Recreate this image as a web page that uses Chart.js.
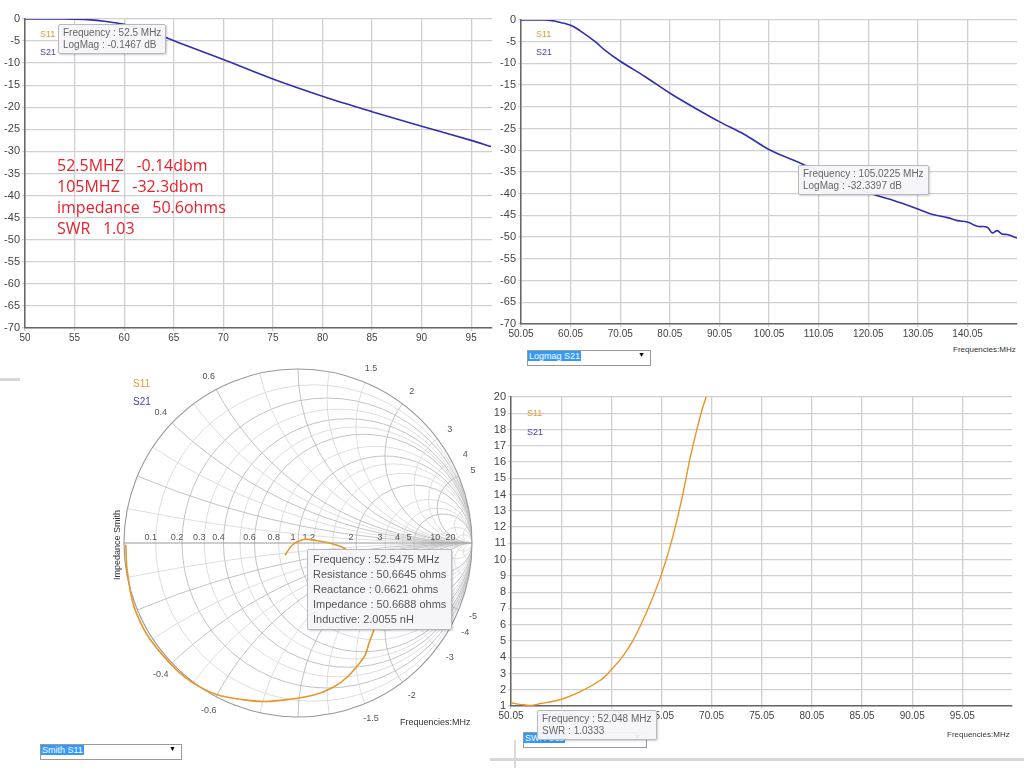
<!DOCTYPE html>
<html>
<head>
<meta charset="utf-8">
<script src="https://cdn.jsdelivr.net/npm/chart.js@4.4.1/dist/chart.umd.min.js"></script>
<style>
  body{margin:0;width:1024px;height:768px;position:relative;background:#fff;font-family:"Liberation Sans",Arial,sans-serif;overflow:hidden}
  canvas{position:absolute}
  .tip{position:absolute;background:rgba(245,246,250,.95);border:1px solid #b8b8c0;border-radius:2px;color:#666;font-size:10px;line-height:12px;padding:2px 4px;box-shadow:1px 1px 2px rgba(0,0,0,.2)}
  .tip.big{font-size:11px;line-height:15px;color:#555;padding:2px 5px}
  .lg{position:absolute;font-size:9px}
  .s11{color:#e39a3c}.s21{color:#4a44b8}
  .red{position:absolute;left:57px;top:155px;color:#e8202a;font-family:"Open Sans",sans-serif;font-size:16px;line-height:21px;white-space:pre}
  .dd{position:absolute;height:14px;border:1px solid #999;background:#fff;font-size:9px}
  .dd span{background:#3399ff;color:#fff;padding:0 1px}
  .dd i{position:absolute;right:5px;top:0;font-style:normal;font-size:7px}
  .fq{position:absolute;font-size:8px;color:#333}
  .shadow{position:absolute;background:#d8d8d8}
</style>
</head>
<body>
<div class="shadow" style="left:0;top:378px;width:20px;height:3px"></div>
<div class="shadow" style="left:490px;top:758px;width:534px;height:3px"></div>
<div class="shadow" style="left:514px;top:740px;width:2px;height:28px"></div>
<canvas id="c1" width="500" height="345" style="left:0;top:0"></canvas>
<canvas id="c2" width="524" height="345" style="left:500px;top:0"></canvas>
<canvas id="c3" width="400" height="370" style="left:100px;top:360px"></canvas>
<canvas id="c4" width="534" height="345" style="left:490px;top:380px"></canvas>

<div class="lg s11" style="left:40px;top:29px">S11</div>
<div class="lg s21" style="left:40px;top:47px">S21</div>
<div class="tip" style="left:58px;top:24px">Frequency : 52.5 MHz<br>LogMag : -0.1467 dB</div>
<div class="red">52.5MHZ   -0.14dbm
105MHZ   -32.3dbm
impedance   50.6ohms
SWR   1.03</div>

<div class="lg s11" style="left:536px;top:29px">S11</div>
<div class="lg s21" style="left:536px;top:47px">S21</div>
<div class="tip" style="left:798px;top:165px">Frequency : 105.0225 MHz<br>LogMag : -32.3397 dB</div>
<div class="dd" style="left:527px;top:350px;width:122px"><span>Logmag S21</span><i>▼</i></div>
<div class="fq" style="left:953px;top:345px">Frequencies:MHz</div>

<div class="lg s11" style="left:133px;top:378px;font-size:10px">S11</div>
<div class="lg s21" style="left:133px;top:396px;font-size:10px">S21</div>
<div class="fq" style="left:112px;top:580px;transform:rotate(-90deg);transform-origin:left top;font-size:9px">Impedance Smith</div>
<div class="tip big" style="left:307px;top:549px">Frequency : 52.5475 MHz<br>Resistance : 50.6645 ohms<br>Reactance : 0.6621 ohms<br>Impedance : 50.6688 ohms<br>Inductive: 2.0055 nH</div>
<div class="fq" style="left:400px;top:717px;font-size:9px">Frequencies:MHz</div>
<div class="dd" style="left:40px;top:744px;width:140px"><span>Smith S11</span><i>▼</i></div>

<div class="lg s11" style="left:527px;top:408px">S11</div>
<div class="lg s21" style="left:527px;top:427px">S21</div>
<div class="dd" style="left:523px;top:732px;width:122px"><span>SWR S11</span><i>▼</i></div>
<div class="tip" style="left:537px;top:710px;font-size:10px">Frequency : 52.048 MHz<br>SWR : 1.0333</div>
<div class="fq" style="left:947px;top:730px">Frequencies:MHz</div>

<script>
// panel 1: logmag S21, 50-97 MHz
const freq1 = [50, 53, 56, 58, 60, 62, 64, 66, 70, 75, 80, 85, 90, 95, 97];
const mag1 = [0, 0, -0.1, -0.5, -1.2, -2.3, -4.0, -5.8, -9.2, -13.6, -17.5, -21, -24.3, -27.5, -28.9];
const ticks1 = [50, 55, 60, 65, 70, 75, 80, 85, 90, 95];

// panel 2: logmag S21, 50.05-150 MHz
const freq2 = [50.05, 55, 57, 60.05, 62, 65, 67, 70.05, 75, 80, 85, 90, 95, 100, 105, 110, 115, 120, 125, 130, 133, 136, 138, 140, 142, 144, 145, 146, 147, 148, 150];
const mag2 = [0, 0, -0.3, -1.2, -2.5, -5, -7, -9.5, -13, -16.8, -20.2, -23.4, -26.3, -29.8, -32.3, -34.8, -37.5, -39.8, -41.5, -43.5, -44.8, -45.5, -46.2, -46.5, -47.5, -47.7, -49, -48.5, -49.3, -49.4, -50.2];
const ticks2 = [50.05, 60.05, 70.05, 80.05, 90.05, 100.05, 110.05, 120.05, 130.05, 140.05];

// panel 3: S11 on Smith chart (reflection coefficient re / im)
const gRe = [-0.075, -0.03, 0.03, 0.086, 0.18, 0.28, 0.38, 0.44, 0.45, 0.41, 0.37, 0.2, -0.06, -0.32, -0.56, -0.79, -0.93, -0.98, -0.99];
const gIm = [-0.07, -0.01, 0.02, 0.017, 0.0, -0.04, -0.17, -0.32, -0.44, -0.57, -0.67, -0.83, -0.9, -0.9, -0.83, -0.63, -0.40, -0.17, -0.01];
const resLabels = [0.1, 0.2, 0.3, 0.4, 0.6, 0.8, 1, 1.2, 2, 3, 4, 5, 10, 20];
const reactLabels = [0.4, 0.6, 1.5, 2, 3, 4, 5];
const resGrid = [0.1, 0.2, 0.3, 0.4, 0.5, 0.6, 0.8, 1, 1.2, 1.5, 2, 3, 4, 5, 10, 20];
const reactGrid = [0.1, 0.2, 0.3, 0.4, 0.5, 0.6, 0.8, 1, 1.2, 1.5, 2, 3, 4, 5, 10, 20];
const majorGrid = [0.2, 0.4, 0.6, 1, 2, 5];

// panel 4: SWR S11
const freq4 = [50.05, 51, 52, 53, 55, 57, 59, 60, 61, 62, 63, 64, 65, 66, 67, 68, 69, 69.5];
const swr4 = [1.2, 1.1, 1.03, 1.15, 1.4, 1.9, 2.6, 3.2, 3.9, 4.8, 6.0, 7.4, 9.0, 11, 13.5, 16.5, 19, 20];
const ticks4 = [50.05, 55.05, 60.05, 65.05, 70.05, 75.05, 80.05, 85.05, 90.05, 95.05];

const BLUE = "#2f2fb0", ORANGE = "#e8952a", GRID = "#d0d0d0";
const tickFont = {family: "Liberation Sans", size: 10};

function pts(xs, ys){ return xs.map((x, i) => ({x, y: ys[i]})); }

function lineChart(id, xs, ys, color, o){
  return new Chart(document.getElementById(id), {
    type: "scatter",
    data: {datasets: [{data: pts(xs, ys), showLine: true, borderColor: color, borderWidth: o.lw || 1.6, pointRadius: 0, tension: 0.35}]},
    options: {
      responsive: false, animation: false,
      layout: {padding: o.pad},
      plugins: {legend: {display: false}, tooltip: {enabled: false}},
      scales: {
        x: {type: "linear", min: o.xmin, max: o.xmax,
          afterBuildTicks: s => { s.ticks = o.xticks.map(v => ({value: v})); },
          afterFit: s => { s.height = o.xh; },
          ticks: {color: "#444", font: tickFont, padding: 1, maxRotation: 0, callback: v => o.xfmt ? v.toFixed(2) : v},
          grid: {color: GRID, lineWidth: 1.3, tickLength: 3}, border: {color: "#666", width: 1.5}},
        y: {min: o.ymin, max: o.ymax,
          afterBuildTicks: s => { const t = []; for (let v = o.ymin; v <= o.ymax; v += o.ystep) t.push({value: v}); s.ticks = t; },
          afterFit: s => { s.width = o.yw; },
          ticks: {color: "#444", font: {family: "Liberation Sans", size: 11}, padding: 2},
          grid: {color: GRID, lineWidth: 1.3, tickLength: 3}, border: {color: "#666", width: 1.5}}
      }
    }
  });
}

lineChart("c1", freq1, mag1, BLUE, {pad: {left: 0, right: 8, top: 19}, xmin: 50, xmax: 97.1, xticks: ticks1, xh: 17, ymin: -70, ymax: 0, ystep: 5, yw: 25});
lineChart("c2", freq2, mag2, BLUE, {pad: {left: 0, right: 7, top: 20}, xmin: 50.05, xmax: 150, xticks: ticks2, xh: 21, xfmt: true, ymin: -70, ymax: 0, ystep: 5, yw: 21});
lineChart("c4", freq4, swr4, ORANGE, {pad: {left: 0, right: 12, top: 17}, xmin: 50.05, xmax: 100, xticks: ticks4, xh: 19, xfmt: true, ymin: 1, ymax: 20, ystep: 1, yw: 21, lw: 1.4});

// Smith chart grid, drawn from the chart's own scales
const smithGrid = {
  id: "smithGrid",
  beforeDatasetsDraw(chart){
    const {ctx} = chart, sx = chart.scales.x, sy = chart.scales.y;
    const cx = sx.getPixelForValue(0), cy = sy.getPixelForValue(0);
    const R = sx.getPixelForValue(1) - cx;
    const P = (u, v) => [sx.getPixelForValue(u), sy.getPixelForValue(v)];
    ctx.save();
    ctx.beginPath(); ctx.arc(cx, cy, R, 0, 2 * Math.PI); ctx.clip();
    ctx.lineWidth = 0.8;
    for (const r of resGrid){
      const [px] = P(r / (1 + r), 0);
      ctx.beginPath(); ctx.arc(px, cy, R / (1 + r), 0, 2 * Math.PI);
      ctx.strokeStyle = majorGrid.includes(r) ? "#b4b4b4" : "#d6d6d6"; ctx.stroke();
    }
    for (const x of reactGrid){
      for (const sgn of [1, -1]){
        const [px, py] = P(1, sgn / x);
        ctx.beginPath(); ctx.arc(px, py, R / x, 0, 2 * Math.PI);
        ctx.strokeStyle = majorGrid.includes(x) ? "#b4b4b4" : "#d6d6d6"; ctx.stroke();
      }
    }
    ctx.restore();
    ctx.save();
    ctx.strokeStyle = "#999"; ctx.lineWidth = 1.1;
    ctx.beginPath(); ctx.arc(cx, cy, R, 0, 2 * Math.PI); ctx.stroke();
    ctx.beginPath(); ctx.moveTo(cx - R, cy); ctx.lineTo(cx + R, cy); ctx.strokeStyle = "#999"; ctx.stroke();
    ctx.fillStyle = "#555"; ctx.font = "9px 'Liberation Sans'"; ctx.textAlign = "center";
    for (const r of resLabels){
      const [px] = P((r - 1) / (r + 1), 0);
      ctx.fillText(String(r), px - 5, cy - 3);
    }
    for (const x of reactLabels){
      for (const sgn of [1, -1]){
        const xx = sgn * x, d = 1 + xx * xx;
        const u = (xx * xx - 1) / d, v = 2 * xx / d;
        const [px, py] = P(u * 1.09, v * 1.09);
        ctx.fillText(sgn > 0 ? String(x) : "-" + x, px, py + 3);
      }
    }
    ctx.restore();
  }
};

new Chart(document.getElementById("c3"), {
  type: "scatter",
  data: {datasets: [{data: pts(gRe, gIm), showLine: true, borderColor: ORANGE, borderWidth: 1.6, pointRadius: 0, tension: 0.4}]},
  options: {
    responsive: false, animation: false,
    layout: {padding: {left: 24, right: 28, top: 9, bottom: 13}},
    plugins: {legend: {display: false}, tooltip: {enabled: false}},
    scales: {x: {display: false, min: -1, max: 1}, y: {display: false, min: -1, max: 1}}
  },
  plugins: [smithGrid]
});
</script>
</body>
</html>
